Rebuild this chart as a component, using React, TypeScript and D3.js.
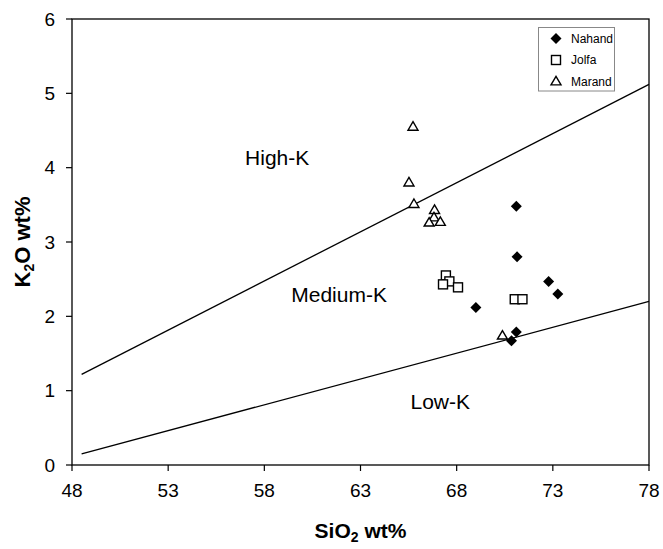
import React from "react";
import * as d3 from "d3";

const xTicks = [48, 53, 58, 63, 68, 73, 78];
const yTicks = [0, 1, 2, 3, 4, 5, 6];

const nahand: [number, number][] = [
  [71.1, 3.48], [71.14, 2.8], [72.78, 2.47], [73.26, 2.3], [69.0, 2.12], [71.1, 1.79], [70.85, 1.67],
];
const jolfa: [number, number][] = [
  [67.44, 2.55], [67.62, 2.47], [67.29, 2.43], [68.07, 2.39], [71.02, 2.23], [71.42, 2.23],
];
const marand: [number, number][] = [
  [65.73, 4.55], [65.52, 3.8], [65.78, 3.51], [66.85, 3.43], [66.82, 3.33], [66.57, 3.26], [67.15, 3.27], [70.38, 1.74],
];
const highKLine: [number, number][] = [[48.5, 1.22], [78, 5.12]];
const lowKLine: [number, number][] = [[48.5, 0.15], [78, 2.2]];
const regionLabels = [
  { text: "High-K", x: 57.0, y: 4.04 },
  { text: "Medium-K", x: 59.4, y: 2.19 },
  { text: "Low-K", x: 65.6, y: 0.75 },
];
const legendItems = ["Nahand", "Jolfa", "Marand"];

const W = 663, H = 549;
const x = d3.scaleLinear().domain([48, 78]).range([72, 649]);
const y = d3.scaleLinear().domain([0, 6]).range([465, 19]);
const font = "Arial, 'Liberation Sans', sans-serif";

function Marker({ kind, cx, cy }: { kind: string; cx: number; cy: number }) {
  if (kind === "Nahand") {
    const r = 5.5;
    return <path d={`M${cx},${cy - r}L${cx + r},${cy}L${cx},${cy + r}L${cx - r},${cy}Z`} fill="#000" />;
  }
  if (kind === "Jolfa") {
    const s = 9;
    return <rect x={cx - s / 2} y={cy - s / 2} width={s} height={s} fill="#fff" stroke="#000" strokeWidth={1.4} />;
  }
  const h = 8.5, w = 10;
  return (
    <path
      d={`M${cx},${cy - h * 0.6}L${cx + w / 2},${cy + h * 0.4}L${cx - w / 2},${cy + h * 0.4}Z`}
      fill="#fff"
      stroke="#000"
      strokeWidth={1.4}
    />
  );
}

export default function App() {
  const line = d3.line<[number, number]>().x((d) => x(d[0])).y((d) => y(d[1]));
  return (
    <svg width={W} height={H} style={{ position: "absolute", left: 0, top: 0, background: "#fff" }} fontFamily={font}>
      <rect width={W} height={H} fill="#fff" />
      <rect x={x(48)} y={y(6)} width={x(78) - x(48)} height={y(0) - y(6)} fill="none" stroke="#000" strokeWidth={1.3} />
      {yTicks.map((t) => (
        <g key={"y" + t}>
          <line x1={x(48) - 6} x2={x(48)} y1={y(t)} y2={y(t)} stroke="#000" strokeWidth={1.2} />
          <text x={55} y={y(t)} textAnchor="end" dominantBaseline="central" fontSize={19}>
            {t}
          </text>
        </g>
      ))}
      {xTicks.map((t) => (
        <g key={"x" + t}>
          <line x1={x(t)} x2={x(t)} y1={y(0)} y2={y(0) + 6} stroke="#000" strokeWidth={1.2} />
          <text x={x(t)} y={497} textAnchor="middle" fontSize={19}>
            {t}
          </text>
        </g>
      ))}
      <path d={line(highKLine) || ""} fill="none" stroke="#000" strokeWidth={1.3} />
      <path d={line(lowKLine) || ""} fill="none" stroke="#000" strokeWidth={1.3} />
      {regionLabels.map((r) => (
        <text key={r.text} x={x(r.x)} y={y(r.y)} fontSize={21}>
          {r.text}
        </text>
      ))}
      {marand.map((d, i) => (
        <Marker key={"m" + i} kind="Marand" cx={x(d[0])} cy={y(d[1])} />
      ))}
      {jolfa.map((d, i) => (
        <Marker key={"j" + i} kind="Jolfa" cx={x(d[0])} cy={y(d[1])} />
      ))}
      {nahand.map((d, i) => (
        <Marker key={"n" + i} kind="Nahand" cx={x(d[0])} cy={y(d[1])} />
      ))}
      <rect x={538.5} y={27.5} width={76} height={63.5} fill="#fff" stroke="#888" strokeWidth={1} />
      {legendItems.map((name, i) => (
        <g key={name}>
          <Marker kind={name} cx={556} cy={38.5 + i * 21.5} />
          <text x={571} y={38.5 + i * 21.5} dominantBaseline="central" fontSize={12}>
            {name}
          </text>
        </g>
      ))}
      <text x={x(63)} y={538} textAnchor="middle" fontSize={21} fontWeight="bold">
        SiO<tspan fontSize={14} dy={4}>2</tspan>
        <tspan dy={-4}> wt%</tspan>
      </text>
      <text transform={`translate(30,${y(3)}) rotate(-90)`} textAnchor="middle" fontSize={22} fontWeight="bold">
        K<tspan fontSize={14} dy={4}>2</tspan>
        <tspan dy={-4}>O wt%</tspan>
      </text>
    </svg>
  );
}
